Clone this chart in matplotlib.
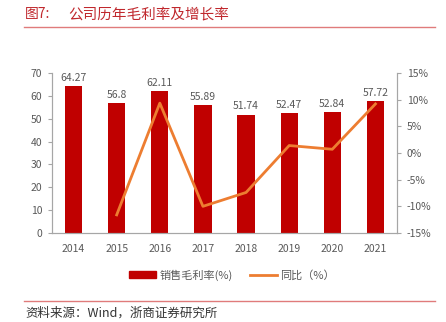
import matplotlib
matplotlib.use('Agg')
import matplotlib.pyplot as plt
from matplotlib.lines import Line2D
from matplotlib.patches import Patch
from matplotlib.ticker import FuncFormatter

plt.rcParams['font.family'] = ['Noto Sans CJK SC', 'DejaVu Sans']

# 公司历年毛利率及同比增速
years = ['2014', '2015', '2016', '2017', '2018', '2019', '2020', '2021']
gross_margin = [64.27, 56.8, 62.11, 55.89, 51.74, 52.47, 52.84, 57.72]
yoy_pct = [None, -11.6, 9.35, -10.0, -7.4, 1.4, 0.7, 9.2]

bar_color = '#C00000'
line_color = '#ED7D31'
text_grey = '#595959'
axis_grey = '#A6A6A6'

fig = plt.figure(figsize=(4.46, 3.22), dpi=100)
ax = fig.add_axes([52 / 446, 1 - 233 / 322, 345 / 446, 160 / 322])
ax2 = ax.twinx()

x = list(range(len(years)))
bars = ax.bar(x, gross_margin, width=0.4, color=bar_color, zorder=2)
for xi, v in zip(x, gross_margin):
    ax.text(xi, v + 1.5, f'{v:g}', ha='center', va='bottom',
            fontsize=7.5, color=text_grey)

xs = [xi for xi, v in zip(x, yoy_pct) if v is not None]
ys = [v / 100 for v in yoy_pct if v is not None]
ax2.plot(xs, ys, color=line_color, lw=2.0, zorder=3)

ax.set_xlim(-0.5, 7.5)
ax.set_ylim(0, 70)
ax.set_yticks(range(0, 71, 10))
ax2.set_ylim(-0.15, 0.15)
ax2.set_yticks([-0.15, -0.10, -0.05, 0, 0.05, 0.10, 0.15])
ax2.yaxis.set_major_formatter(FuncFormatter(lambda v, _: f'{v * 100:.0f}%'))
ax.set_xticks(x)
ax.set_xticklabels(years)

for a in (ax, ax2):
    a.spines['top'].set_visible(False)
    for s in ('left', 'right', 'bottom'):
        a.spines[s].set_color(axis_grey)
        a.spines[s].set_linewidth(0.8)
    a.tick_params(labelsize=7.5, colors=text_grey, length=3, width=0.8)
    a.tick_params(axis='both', color=axis_grey)
ax.tick_params(axis='x', length=0, pad=8)
ax.tick_params(axis='y', pad=4)
ax2.tick_params(axis='y', pad=4)

handles = [Patch(facecolor=bar_color, edgecolor=bar_color),
           Line2D([0], [0], color=line_color, lw=2.0)]
fig.legend(handles, ['销售毛利率(%)', '同比（%）'], loc='center',
           bbox_to_anchor=(232 / 446, 1 - 275 / 322), ncol=2, frameon=False,
           fontsize=8, labelcolor=text_grey, handlelength=2.4,
           handleheight=0.5, columnspacing=1.6, handletextpad=0.3)

# 标题与来源
title_color = '#C0282D'
fig.text(25 / 446, 1 - 14 / 322, '图7:', fontsize=10,
         color=title_color, va='center', ha='left')
fig.text(68 / 446, 1 - 14 / 322, '公司历年毛利率及增长率', fontsize=10.5,
         color=title_color, va='center', ha='left')
fig.add_artist(Line2D([24 / 446, 435 / 446], [1 - 27 / 322, 1 - 27 / 322],
                      color='#E07B7B', lw=1.0))
fig.add_artist(Line2D([24 / 446, 435 / 446], [1 - 301 / 322, 1 - 301 / 322],
                      color='#E07B7B', lw=1.0))
fig.text(25 / 446, 1 - 313 / 322, '资料来源：Wind，浙商证券研究所', fontsize=9,
         color='#333333', va='center', ha='left')

fig.savefig('out.png', dpi=100)
